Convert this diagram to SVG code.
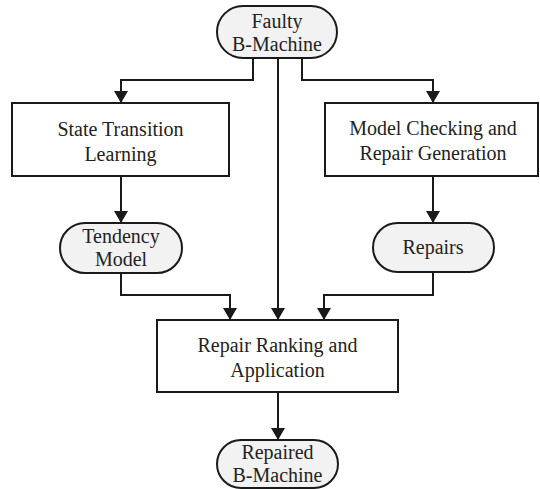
<svg xmlns="http://www.w3.org/2000/svg" width="540" height="489" viewBox="0 0 540 489">
<defs>
<style>
.box{fill:#ffffff;stroke:#1a1a1a;stroke-width:2}
.pill{fill:#f2f2f2;stroke:#1a1a1a;stroke-width:2}
.lbl{font-family:"Liberation Serif","Times New Roman",serif;font-size:20px;fill:#222;text-anchor:middle}
.edge{fill:none;stroke:#1a1a1a;stroke-width:2;marker-end:url(#ah)}
</style>
<marker id="ah" markerUnits="userSpaceOnUse" markerWidth="12" markerHeight="14" viewBox="0 0 12 14" refX="12" refY="7" orient="auto">
<path d="M0,0 L12,7 L0,14 z" fill="#1a1a1a"/>
</marker>
</defs>
<rect width="540" height="489" fill="#ffffff"/>
<g id="connectors">
<path class="edge" d="M253,58 V80 H121 V103"/>
<path class="edge" d="M278,58 V320"/>
<path class="edge" d="M302,58 V80 H433 V103"/>
<path class="edge" d="M121,176 V223"/>
<path class="edge" d="M433,176 V223"/>
<path class="edge" d="M121,273 V295 H230 V320"/>
<path class="edge" d="M433,272 V295 H324 V320"/>
<path class="edge" d="M278,392 V440"/>
</g>
<g id="faulty">
<rect class="pill" x="217" y="6" width="120" height="52" rx="26"/>
<text class="lbl" x="277" y="28">Faulty</text>
<text class="lbl" x="277" y="51">B-Machine</text>
</g>
<g id="stl">
<rect class="box" x="12" y="103" width="217" height="73"/>
<text class="lbl" x="120.5" y="136">State Transition</text>
<text class="lbl" x="120.5" y="161">Learning</text>
</g>
<g id="mc">
<rect class="box" x="325" y="103" width="213" height="73"/>
<text class="lbl" x="433" y="135">Model Checking and</text>
<text class="lbl" x="433" y="160">Repair Generation</text>
</g>
<g id="tendency">
<rect class="pill" x="60" y="223" width="122" height="50" rx="25"/>
<text class="lbl" x="121" y="243">Tendency</text>
<text class="lbl" x="121" y="266">Model</text>
</g>
<g id="repairs">
<rect class="pill" x="373" y="223" width="121" height="49" rx="24.5"/>
<text class="lbl" x="433" y="254">Repairs</text>
</g>
<g id="ranking">
<rect class="box" x="157" y="320" width="241" height="72"/>
<text class="lbl" x="277.5" y="352">Repair Ranking and</text>
<text class="lbl" x="277.5" y="377">Application</text>
</g>
<g id="repaired">
<rect class="pill" x="217" y="440" width="121" height="48" rx="24"/>
<text class="lbl" x="277.5" y="459">Repaired</text>
<text class="lbl" x="277.5" y="482">B-Machine</text>
</g>
</svg>
